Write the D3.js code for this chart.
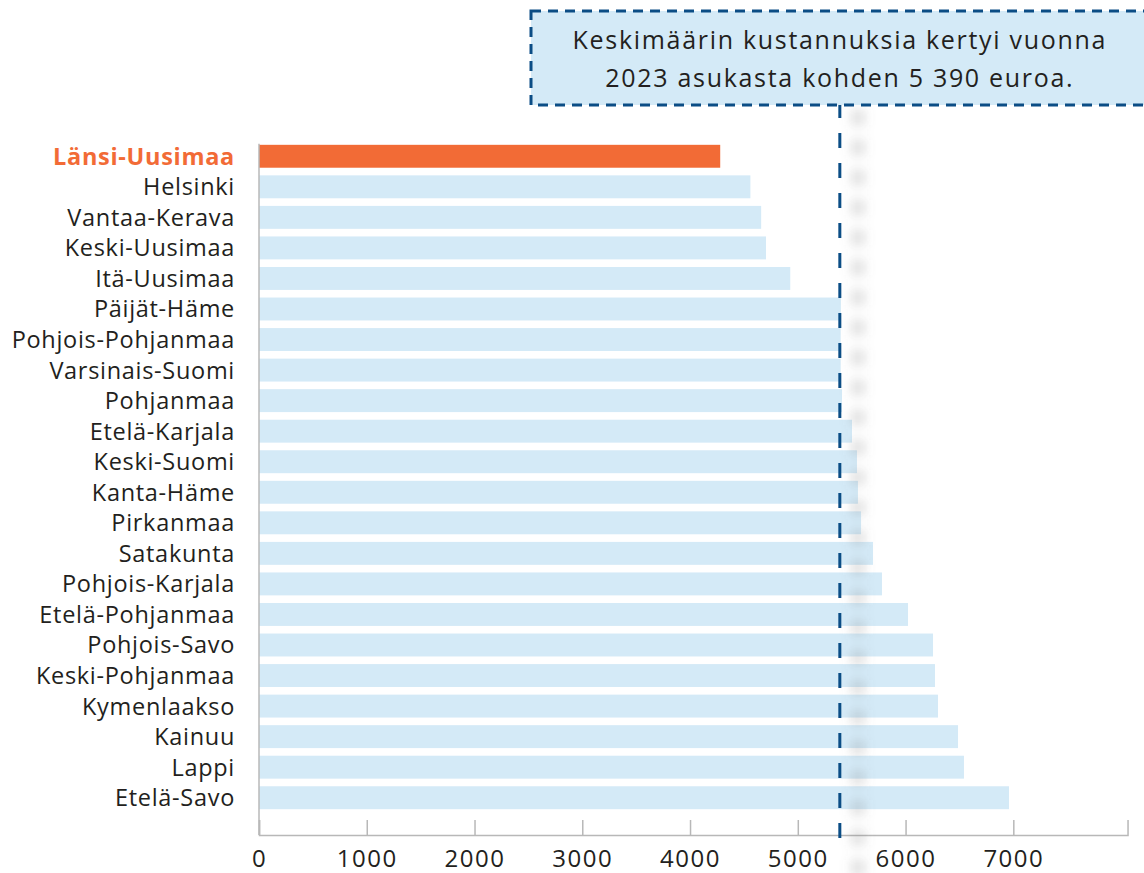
<!DOCTYPE html>
<html>
<head>
<meta charset="utf-8">
<script src="https://cdn.jsdelivr.net/npm/d3@7"></script>
<style>
  html, body { margin: 0; padding: 0; background: #fff; }
  svg { display: block; font-family: "Open Sans", sans-serif; }
</style>
</head>
<body>
<svg class="canvas"></svg>
<script>
// Setting constants
const wWidth = 1144
const wHeight = 873

// Data
const regions = ["Länsi-Uusimaa", "Helsinki", "Vantaa-Kerava", "Keski-Uusimaa", "Itä-Uusimaa",
    "Päijät-Häme", "Pohjois-Pohjanmaa", "Varsinais-Suomi", "Pohjanmaa", "Etelä-Karjala",
    "Keski-Suomi", "Kanta-Häme", "Pirkanmaa", "Satakunta", "Pohjois-Karjala",
    "Etelä-Pohjanmaa", "Pohjois-Savo", "Keski-Pohjanmaa", "Kymenlaakso", "Kainuu",
    "Lappi", "Etelä-Savo"];
const costs = [4280, 4560, 4660, 4705, 4930,
    5400, 5398, 5398, 5410, 5503,
    5549, 5558, 5587, 5698, 5781,
    6023, 6255, 6273, 6301, 6487,
    6542, 6960];
const highlight = "Länsi-Uusimaa";
const average = 5390;
const tickLabels = [0, 1000, 2000, 3000, 4000, 5000, 6000, 7000];
const noteLines = ["Keskimäärin kustannuksia kertyi vuonna", "2023 asukasta kohden 5 390 euroa."];

const data = regions.map((r, i) => ({region: r, value: costs[i]}));

// Colours
const barColor = "#d4eaf7";
const hiColor = "#f26b36";
const navy = "#0b4d85";
const axisColor = "#b8b8b8";
const textColor = "#231f20";

// Margins
const margin = {top: 141, bottom: 813, left: 259, axisY: 835};

const svg = d3.select(".canvas")
    .attr("width", wWidth)
    .attr("height", wHeight);

// Blur for the shadow of the average line (user space, the line has no width)
const defs = svg.append("defs");
defs.append("filter")
    .attr("id", "blur")
    .attr("filterUnits", "userSpaceOnUse")
    .attr("x", 0).attr("y", 0)
    .attr("width", wWidth).attr("height", wHeight)
    .append("feGaussianBlur")
    .attr("stdDeviation", 6);

// Scales
const xScale = d3.scaleLinear()
    .domain([0, 8060])
    .range([margin.left, 259 + 8060 * 0.10776]);

const yScale = d3.scaleBand()
    .domain(regions)
    .range([margin.top, margin.bottom])
    .paddingInner(0.25)
    .paddingOuter(0.125);

// Bars
svg.append("g").selectAll("rect")
    .data(data)
    .enter()
    .append("rect")
    .attr("x", xScale(0))
    .attr("y", d => yScale(d.region))
    .attr("width", d => xScale(d.value) - xScale(0))
    .attr("height", yScale.bandwidth())
    .attr("fill", d => d.region === highlight ? hiColor : barColor);

// Category labels
svg.append("g").selectAll("text")
    .data(data)
    .enter()
    .append("text")
    .attr("x", xScale(0) - 24)
    .attr("y", d => yScale(d.region) + yScale.bandwidth() / 2)
    .attr("dy", "0.36em")
    .attr("text-anchor", "end")
    .attr("font-size", 23.5)
    .attr("letter-spacing", 0.7)
    .attr("font-weight", d => d.region === highlight ? 700 : 400)
    .attr("fill", d => d.region === highlight ? hiColor : textColor)
    .text(d => d.region);

// Left axis line
svg.append("line")
    .attr("x1", xScale(0)).attr("x2", xScale(0))
    .attr("y1", yScale(regions[0]) - 1).attr("y2", margin.axisY)
    .attr("stroke", axisColor)
    .attr("stroke-width", 1.5);

// X axis, ticks pointing up
const xAxis = d3.axisBottom(xScale)
    .tickValues(tickLabels)
    .tickFormat(d3.format("d"))
    .tickSizeInner(-15)
    .tickSizeOuter(-15)
    .tickPadding(15);

const xAxisGroup = svg.append("g")
    .attr("transform", `translate(0, ${margin.axisY})`)
    .call(xAxis);
xAxisGroup.select(".domain").attr("stroke", axisColor).attr("stroke-width", 1.5);
xAxisGroup.selectAll(".tick line").attr("stroke", axisColor).attr("stroke-width", 1.5);
xAxisGroup.selectAll(".tick text")
    .attr("font-size", 24)
    .attr("letter-spacing", 1.5)
    .attr("font-family", "'Open Sans', sans-serif")
    .attr("fill", textColor);

// Average line and its shadow
const avgX = xScale(average);
svg.append("line")
    .attr("x1", avgX + 18).attr("x2", avgX + 18)
    .attr("y1", 110).attr("y2", 885)
    .attr("stroke", "#666")
    .attr("stroke-opacity", 0.25)
    .attr("stroke-width", 12)
    .attr("stroke-dasharray", "15,15")
    .attr("filter", "url(#blur)");

svg.append("line")
    .attr("x1", avgX).attr("x2", avgX)
    .attr("y1", 103).attr("y2", 838)
    .attr("stroke", navy)
    .attr("stroke-width", 3)
    .attr("stroke-dasharray", "15,15");

// Annotation box
svg.append("rect")
    .attr("x", 531).attr("y", 11)
    .attr("width", 650).attr("height", 94)
    .attr("fill", barColor)
    .attr("stroke", navy)
    .attr("stroke-width", 3)
    .attr("stroke-dasharray", "10,7");

svg.append("g").selectAll("text")
    .data(noteLines)
    .enter()
    .append("text")
    .attr("x", avgX)
    .attr("y", (d, i) => 49 + i * 38)
    .attr("text-anchor", "middle")
    .attr("font-size", 25)
    .attr("letter-spacing", 1.7)
    .attr("fill", textColor)
    .text(d => d);
</script>
</body>
</html>
